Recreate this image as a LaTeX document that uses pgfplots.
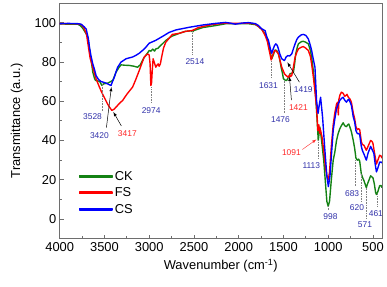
\documentclass[border=0pt]{standalone}
\usepackage{pgfplots}
\pgfplotsset{compat=1.18}
\usepackage{fontspec}
\setmainfont{Liberation Sans}
\definecolor{ckgreen}{RGB}{20,130,20}
\definecolor{fsred}{RGB}{255,0,0}
\definecolor{csblue}{RGB}{0,0,255}
\definecolor{navy}{RGB}{50,50,170}
\definecolor{lred}{RGB}{255,40,40}
\definecolor{framegray}{RGB}{110,110,110}
\begin{document}
\begin{tikzpicture}
\begin{axis}[
  scale only axis, width=324bp, height=237bp,
  xmin=400, xmax=4000, x dir=reverse,
  ymin=-10, ymax=110,
  xtick={500,1000,...,4000}, minor xtick={750,1250,...,3750},
  ytick={0,20,...,100}, minor ytick={-10,10,...,110},
  tick pos=left, tick align=inside,
  major tick length=4bp, minor tick length=2.5bp,
  axis line style={framegray, line width=0.8pt},
  every tick/.style={framegray, line width=0.7pt},
  /pgf/number format/assume math mode=true,
  /pgf/number format/1000 sep={},
  tick label style={font=\fontsize{13}{15}\selectfont},
  label style={font=\fontsize{13}{15}\selectfont},
  xlabel={Wavenumber (cm\textsuperscript{-1})},
  ylabel={Transmittance (a.u.)},
  xlabel style={yshift=-1bp},
  ylabel style={yshift=5bp},
  legend style={draw=none, fill=none, at={(0.055,0.30)}, anchor=north west,
    font=\fontsize{13}{15}\selectfont, row sep=2bp, inner sep=1bp},
  legend cell align=left,
  legend image code/.code={\fill[#1] (0bp,-0.9bp) rectangle (33bp,0.9bp);},
  every axis plot/.append style={line width=1.4pt, line join=round},
  clip=true,
]
% CK
\addplot[ckgreen] coordinates {
(4000,99.3)(3800,99.2)(3770,98.5)(3740,97)(3700,94)(3685,92.5)(3665,86)(3648,80.7)(3630,74.8)(3610,71.5)(3600,70.6)(3575,70.3)(3556,70.2)(3540,69)(3528,68)(3510,68.8)(3463,69.2)(3430,70)(3407,70.6)(3390,72.5)(3370,74.8)(3340,77)(3315,78.5)(3270,78.3)(3222,78.2)(3170,77.8)(3130,77.3)(3100,78.5)(3060,82)(3019,84.5)(3000,85.8)(2980,85.5)(2960,86.5)(2940,85.5)(2926,86.6)(2900,87)(2870,88.5)(2852,89.2)(2815,90.9)(2750,93)(2667,94.5)(2600,95.5)(2530,95.9)(2514,95.3)(2500,96)(2400,97.5)(2259,98.5)(2148,99.4)(2000,99.4)(1900,99.5)(1815,99)(1778,98)(1741,96.5)(1704,94.2)(1680,92)(1667,89.2)(1648,85)(1630,81.6)(1610,84)(1593,86.1)(1575,85.8)(1556,84.1)(1540,81)(1526,77.3)(1510,74)(1500,71.4)(1476,70.6)(1463,70.6)(1440,72.5)(1426,74)(1405,74.3)(1389,74.6)(1375,79)(1363,84.1)(1345,87.5)(1333,89.2)(1300,90.3)(1278,90.5)(1250,90)(1222,89.2)(1200,86)(1185,82.4)(1165,75)(1148,68)(1130,55.3)(1111,40)(1093,46.9)(1074,40)(1050,30)(1030,18)(1015,9)(1000,6.5)(985,9)(965,20)(944,30)(926,34)(907,40)(889,43.5)(870,46)(852,47.6)(833,49)(815,47.5)(796,47)(782,48)(770,48.4)(755,46.5)(741,44.5)(720,40)(704,35.9)(690,31)(674,30)(660,30.5)(648,29.5)(630,23)(615,21)(600,19.5)(574,16)(560,18)(526,22)(500,21)(485,18)(470,13.5)(461,12.5)(445,14)(425,17)(407,17)(400,16)
};
\addlegendentry{CK}
% FS
\addplot[fsred] coordinates {
(4000,99.5)(3800,99.4)(3760,99)(3730,97.5)(3700,94)(3680,88)(3660,82)(3630,77.3)(3610,74)(3593,71.4)(3556,67.2)(3530,64.5)(3500,61.8)(3470,59)(3444,57)(3417,55.3)(3390,56)(3360,57.5)(3330,59)(3296,60.4)(3250,63.5)(3185,67.2)(3150,71)(3111,75.6)(3080,79.5)(3056,82.4)(3019,84.1)(3000,83.5)(2990,79)(2981,68)(2974,69)(2965,76)(2956,81.6)(2945,80)(2926,77.3)(2910,78.5)(2900,79)(2889,77.8)(2875,79)(2863,82)(2840,87)(2815,90)(2741,94)(2667,94.5)(2600,95.5)(2519,96)(2450,97.5)(2300,99)(2148,99.8)(2100,99.6)(2000,99.6)(1900,99.8)(1850,99.5)(1815,99.3)(1778,98)(1741,96.5)(1704,93.4)(1680,90.5)(1667,87.5)(1650,84)(1637,81)(1620,83.5)(1600,85.8)(1580,85.5)(1556,84.1)(1540,81)(1519,77.3)(1489,74)(1470,73)(1444,72.2)(1430,73.5)(1420,72.5)(1407,73.1)(1390,77)(1370,82.4)(1350,85)(1333,86.6)(1300,87.5)(1278,87.8)(1250,87)(1222,85.8)(1200,83)(1185,79)(1165,72)(1148,65)(1130,57)(1115,45)(1105,48)(1095,43.6)(1091,46)(1085,45)(1070,42)(1050,35)(1030,26)(1010,21)(998,20)(985,24)(965,37)(944,48)(926,54)(907,58.5)(895,59.5)(887,53)(880,61)(870,63)(852,64.6)(833,64)(815,62.5)(800,63)(790,63.5)(775,62)(755,61)(741,59.5)(720,54)(704,51)(690,47)(674,45.5)(660,46)(648,45.5)(630,39.5)(619,38)(600,37.5)(574,35)(555,37)(526,40)(510,39.5)(500,38.5)(480,33)(461,28)(445,30)(425,32.5)(407,32)(400,31)
};
\addlegendentry{FS}
% CS
\addplot[csblue] coordinates {
(4000,99.5)(3900,99.6)(3800,99.5)(3760,99.2)(3730,98)(3704,96.8)(3680,92)(3667,87.5)(3650,83)(3630,79)(3610,76)(3593,73)(3565,71)(3537,70)(3500,69.5)(3481,69.2)(3450,68.5)(3426,68)(3410,70)(3389,72.2)(3370,75)(3352,77.3)(3315,79.9)(3259,81.6)(3185,82.5)(3150,83.3)(3111,84.4)(3070,86)(3037,87.5)(3000,89.5)(2926,91)(2850,93)(2778,95)(2700,96.3)(2556,97.6)(2400,98.8)(2259,99.6)(2148,100.1)(2100,99.8)(2037,99.2)(1960,99.8)(1889,100)(1815,99.5)(1778,98.5)(1741,96.8)(1704,95.9)(1685,92.5)(1667,90.9)(1648,87)(1631,84.4)(1615,86.5)(1600,88.3)(1585,89.2)(1570,88.5)(1556,86.6)(1540,84)(1519,81.6)(1489,80.7)(1470,82.5)(1452,83.2)(1430,83)(1407,84.1)(1390,86.5)(1370,89.2)(1350,91.5)(1333,92.6)(1300,93.8)(1278,94)(1250,93.5)(1222,91.7)(1200,88.5)(1185,85.8)(1165,81)(1148,77.3)(1130,60.4)(1113,53.8)(1100,58)(1085,62)(1063,52)(1037,35)(1015,22)(998,16.5)(980,22)(960,35)(944,45.2)(926,51)(907,56.2)(889,58.5)(870,60.4)(850,61.5)(833,62)(815,60.5)(796,59.5)(782,60.5)(770,61)(755,59.5)(741,57.9)(720,52)(704,49.4)(690,45)(674,43.5)(660,43.5)(648,43)(630,37)(619,35)(600,33)(574,30)(555,33.5)(526,37)(505,35)(490,33.5)(475,28)(461,24)(445,26)(425,29)(407,29)(400,28.5)
};
\addlegendentry{CS}
% annotations
\begin{scope}[every node/.style={font=\fontsize{8.5}{10}\selectfont, inner sep=0.5bp}]
\draw[gray, densely dotted, line width=0.6pt] (axis cs:3528,69) -- (axis cs:3528,55);
\node[navy] at (axis cs:3633,52) {3528};
\draw[-latex, line width=0.5pt] (axis cs:3478,46.5) -- (axis cs:3422,67.2);
\node[navy] at (axis cs:3556,42.5) {3420};
\draw[-latex, line width=0.5pt] (axis cs:3311,47.4) -- (axis cs:3400,54.5);
\node[lred] at (axis cs:3244,43.5) {3417};
\draw[gray, densely dotted, line width=0.6pt] (axis cs:2974,67) -- (axis cs:2974,59);
\node[navy] at (axis cs:2978,55) {2974};
\draw[gray, densely dotted, line width=0.6pt] (axis cs:2514,95.5) -- (axis cs:2514,84);
\node[navy] at (axis cs:2489,80) {2514};
\draw[gray, densely dotted, line width=0.6pt] (axis cs:1633,80.5) -- (axis cs:1633,72);
\node[navy] at (axis cs:1667,68) {1631};
\draw[-latex, line width=0.5pt] (axis cs:1322,69.7) -- (axis cs:1456,79.8);
\node[navy] at (axis cs:1278,65.7) {1419};
\draw[-latex, line width=0.5pt] (axis cs:1411,60.6) -- (axis cs:1433,72.5);
\node[lred] at (axis cs:1333,57) {1421};
\draw[gray, densely dotted, line width=0.6pt] (axis cs:1489,70.5) -- (axis cs:1489,54);
\node[navy] at (axis cs:1533,50.5) {1476};
\draw[-latex, lred, line width=0.4pt] (axis cs:1289,35.4) -- (axis cs:1133,40.5);
\node[lred] at (axis cs:1411,34) {1091};
\draw[gray, densely dotted, line width=0.6pt] (axis cs:1113,40) -- (axis cs:1113,31);
\node[navy] at (axis cs:1189,27.3) {1113};
\draw[gray, densely dotted, line width=0.6pt] (axis cs:998,6.5) -- (axis cs:998,4.5);
\node[navy] at (axis cs:975,1.5) {998};
\draw[gray, densely dotted, line width=0.6pt] (axis cs:700,30) -- (axis cs:700,16.5);
\node[navy] at (axis cs:733,13) {683};
\draw[gray, densely dotted, line width=0.6pt] (axis cs:633,23) -- (axis cs:633,9);
\node[navy] at (axis cs:678,5.6) {620};
\draw[gray, densely dotted, line width=0.6pt] (axis cs:578,16) -- (axis cs:578,0.5);
\node[navy] at (axis cs:589,-3) {571};
\draw[gray, densely dotted, line width=0.6pt] (axis cs:456,12.5) -- (axis cs:456,6.8);
\node[navy] at (axis cs:467,3) {461};
\end{scope}
\end{axis}
\path (-60bp,-48bp) rectangle (327bp,240bp);
\end{tikzpicture}
\end{document}
